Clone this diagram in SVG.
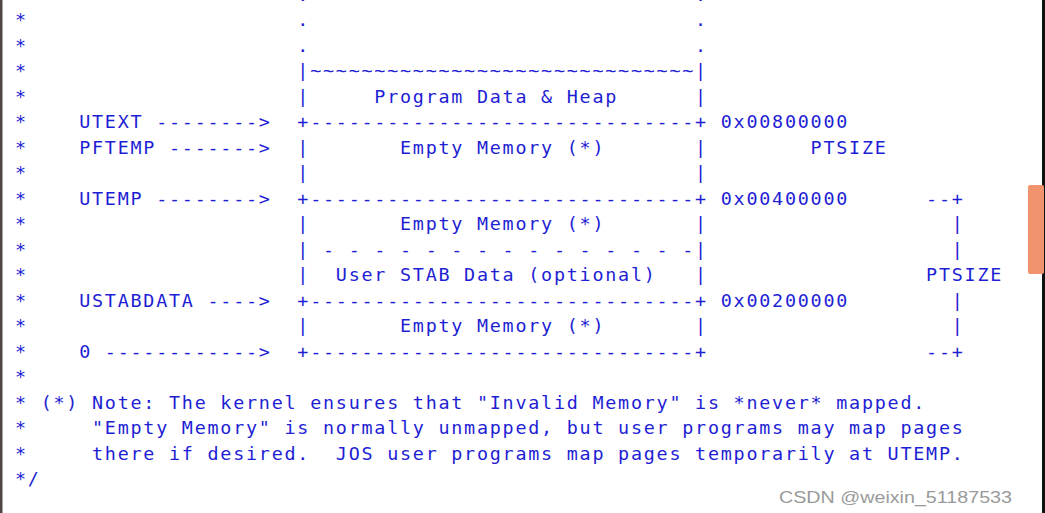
<svg xmlns="http://www.w3.org/2000/svg" width="1045" height="513" viewBox="0 0 1045 513">
<style>
.t{font-family:"DejaVu Sans Mono","Liberation Mono",monospace;font-size:18.4px;letter-spacing:1.76px;fill:#1e1ed4;white-space:pre}
.wm{font-family:"Liberation Sans",Arial,sans-serif;font-size:17px;fill:#9a9a9a}
</style>
<rect x="0" y="0" width="1045" height="513" fill="#ffffff"/>
<rect x="0" y="0" width="2.5" height="513" fill="#4f4545"/>
<rect x="1042" y="0" width="3" height="513" fill="#111111"/>
<rect x="1028" y="185" width="16" height="89" rx="2" fill="#f1946d"/>
<g id="layout" xml:space="preserve">
<text class="t" x="15" y="0.9">*                     .                              .</text>
<text class="t" x="15" y="26.4">*                     .                              .</text>
<text class="t" x="15" y="51.8">*                     .                              .</text>
<text class="t" x="15" y="77.3">*                     |~~~~~~~~~~~~~~~~~~~~~~~~~~~~~~|</text>
<text class="t" x="15" y="102.8">*                     |     Program Data &amp; Heap      |</text>
<text class="t" x="15" y="128.3">*    UTEXT -------->  +------------------------------+ 0x00800000</text>
<text class="t" x="15" y="153.8">*    PFTEMP ------->  |       Empty Memory (*)       |        PTSIZE</text>
<text class="t" x="15" y="179.3">*                     |                              |</text>
<text class="t" x="15" y="204.7">*    UTEMP -------->  +------------------------------+ 0x00400000      --+</text>
<text class="t" x="15" y="230.2">*                     |       Empty Memory (*)       |                   |</text>
<text class="t" x="15" y="255.7">*                     | - - - - - - - - - - - - - - -|                   |</text>
<text class="t" x="15" y="281.2">*                     |  User STAB Data (optional)   |                 PTSIZE</text>
<text class="t" x="15" y="306.7">*    USTABDATA ---->  +------------------------------+ 0x00200000        |</text>
<text class="t" x="15" y="332.2">*                     |       Empty Memory (*)       |                   |</text>
<text class="t" x="15" y="357.6">*    0 ------------>  +------------------------------+                 --+</text>
</g>
<g id="note" xml:space="preserve">
<text class="t" x="15" y="383.1">*</text>
<text class="t" x="15" y="408.6">* (*) Note: The kernel ensures that "Invalid Memory" is *never* mapped.</text>
<text class="t" x="15" y="434.1">*     "Empty Memory" is normally unmapped, but user programs may map pages</text>
<text class="t" x="15" y="459.6">*     there if desired.  JOS user programs map pages temporarily at UTEMP.</text>
<text class="t" x="15" y="485.0">*/</text>
</g>
<text class="wm" x="779" y="503" textLength="233" lengthAdjust="spacingAndGlyphs">CSDN @weixin_51187533</text>
</svg>
